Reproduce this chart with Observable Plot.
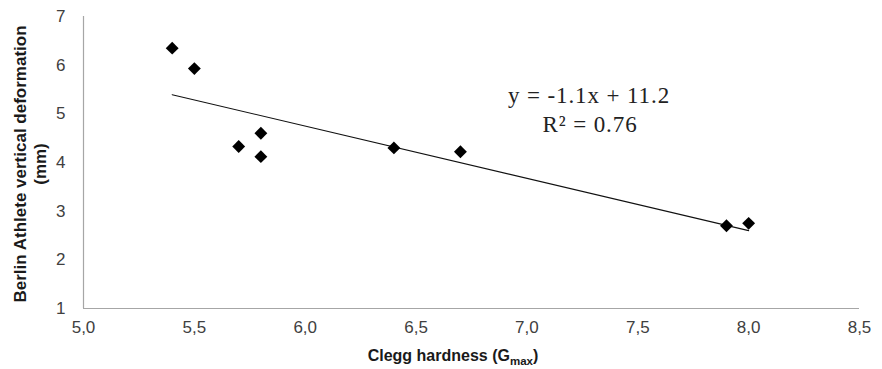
<!DOCTYPE html>
<html>
<head>
<meta charset="utf-8">
<script src="https://cdn.jsdelivr.net/npm/d3@7"></script>
<script src="https://cdn.jsdelivr.net/npm/@observablehq/plot@0.6"></script>
<style>
  html, body { margin: 0; padding: 0; background: #fff; }
  #chart svg { display: block; }
  #chart g[aria-label$="tick label"] { font-size: 17px; }
</style>
</head>
<body>
<div id="chart"></div>
<script>
const clegg = [5.4, 5.5, 5.7, 5.8, 5.8, 6.4, 6.7, 7.9, 8.0];
const deformation = [6.35, 5.93, 4.33, 4.6, 4.12, 4.3, 4.22, 2.7, 2.75];
const xTicks = [5.0, 5.5, 6.0, 6.5, 7.0, 7.5, 8.0, 8.5];
const yTicks = [1, 2, 3, 4, 5, 6, 7];
const equationLines = ["y = -1.1x + 11.2", "R\u00B2 = 0.76"];
const yLabelLines = ["Berlin Athlete vertical deformation", "(mm)"];
const xLabelMain = "Clegg hardness (G";
const xLabelSub = "max";

const data = clegg.map((x, i) => ({x, y: deformation[i]}));

const W = 882, H = 369;
const chart = Plot.plot({
  width: W,
  height: H,
  marginLeft: 83,
  marginRight: 23,
  marginTop: 16,
  marginBottom: 61,
  style: {fontFamily: "Arial, 'Liberation Sans', sans-serif", fontSize: "17px", color: "#404040", background: "#fff"},
  x: {domain: [5, 8.5], label: null},
  y: {domain: [1, 7], label: null},
  marks: [
    Plot.axisX({ticks: xTicks, tickFormat: d => d.toFixed(1).replace(".", ","), tickSize: 0, tickPadding: 12, fontSize: 17, label: null}),
    Plot.axisY({ticks: yTicks, tickFormat: d => String(d), tickSize: 0, tickPadding: 18, fontSize: 17, label: null}),
    Plot.ruleX([5], {stroke: "#a6a6a6", strokeWidth: 1.2}),
    Plot.ruleY([1], {stroke: "#a6a6a6", strokeWidth: 1.2}),
    Plot.linearRegressionY(data, {x: "x", y: "y", ci: 0, stroke: "#111", strokeWidth: 1.1}),
    Plot.dot(data, {x: "x", y: "y", symbol: "diamond2", r: 5.8, fill: "#000", stroke: "none"})
  ]
});
document.getElementById("chart").appendChild(chart);

const svg = d3.select(chart);
// y-axis label (two rotated lines)
const yl = svg.append("text")
  .attr("transform", `translate(0,164) rotate(-90)`)
  .attr("text-anchor", "middle")
  .attr("font-family", "Arial, 'Liberation Sans', sans-serif")
  .attr("font-weight", "bold")
  .attr("font-size", "17px")
  .attr("fill", "#1a1a1a");
yl.append("tspan").attr("x", 0).attr("y", 26).text(yLabelLines[0]);
yl.append("tspan").attr("x", 0).attr("y", 46).text(yLabelLines[1]);

// x-axis label with subscript
const xl = svg.append("text")
  .attr("x", 453).attr("y", 361)
  .attr("text-anchor", "middle")
  .attr("font-family", "Arial, 'Liberation Sans', sans-serif")
  .attr("font-weight", "bold")
  .attr("font-size", "16px")
  .attr("fill", "#1a1a1a");
xl.append("tspan").text(xLabelMain);
xl.append("tspan").attr("font-size", "11.5px").attr("dy", 4).text(xLabelSub);
xl.append("tspan").attr("dy", -4).text(")");

// regression equation annotation
const eq = svg.append("text")
  .attr("text-anchor", "middle")
  .attr("font-family", "'Liberation Serif', 'Times New Roman', serif")
  .attr("font-size", "23px")
  .attr("letter-spacing", "0.9px")
  .attr("fill", "#222");
eq.append("tspan").attr("x", 589).attr("y", 103).text(equationLines[0]);
eq.append("tspan").attr("x", 590).attr("y", 132).text(equationLines[1]);
</script>
</body>
</html>
